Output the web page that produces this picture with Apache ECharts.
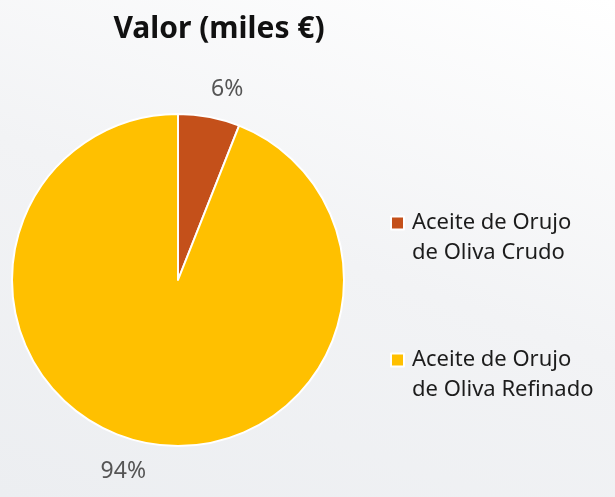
<!DOCTYPE html>
<html>
<head>
<meta charset="utf-8">
<script src="https://cdn.jsdelivr.net/npm/echarts@6/dist/echarts.min.js"></script>
<style>
html,body{margin:0;padding:0;}
#c{width:615px;height:497px;background:linear-gradient(200deg,#ffffff 0%,#f2f3f5 50%,#eceef1 100%);}
</style>
</head>
<body>
<div id="c"></div>
<script>
var categories = ['Aceite de Orujo de Oliva Crudo', 'Aceite de Orujo de Oliva Refinado'];
var values = [6, 94];
var colors = ['#C4501A', '#FFC000'];
var legendLines = {
  'Aceite de Orujo de Oliva Crudo': ['Aceite de Orujo', 'de Oliva Crudo'],
  'Aceite de Orujo de Oliva Refinado': ['Aceite de Orujo', 'de Oliva Refinado']
};
var labelShift = [[-8, -2], [9, 3]];

var chart = echarts.init(document.getElementById('c'), null, {renderer: 'canvas'});
chart.setOption({
  backgroundColor: 'transparent',
  title: {
    text: 'Valor (miles €)',
    left: 214, top: 9, textAlign: 'center',
    textStyle: {fontFamily: 'Noto Sans', fontWeight: 'bold', fontSize: 30, color: '#111'}
  },
  legend: {
    orient: 'vertical',
    left: 390, top: 178,
    padding: 0,
    itemWidth: 13, itemHeight: 13,
    itemGap: 47,
    icon: 'rect',
    itemStyle: {borderColor: '#fff', borderWidth: 2},
    formatter: function (n) {
      var l = legendLines[n];
      return '{t| }\n{t|' + l[0] + '}\n{t|' + l[1] + '}';
    },
    textStyle: {
      fontFamily: 'Noto Sans', fontSize: 22, color: '#1c1c1c', lineHeight: 30,
      rich: {t: {fontFamily: 'Noto Sans', fontSize: 22, color: '#1c1c1c', lineHeight: 30, padding: [0, 0, 0, 3]}}
    }
  },
  series: [{
    type: 'pie',
    center: [178, 280],
    radius: 166,
    startAngle: 90,
    clockwise: true,
    avoidLabelOverlap: false,
    itemStyle: {borderColor: '#fff', borderWidth: 2},
    label: {
      show: true, position: 'outside',
      formatter: '{d}%',
      fontFamily: 'Noto Sans', fontSize: 23, color: '#555'
    },
    labelLine: {show: false, length: 26, length2: 0},
    labelLayout: function (p) {
      var s = labelShift[p.dataIndex];
      return {dx: s[0], dy: s[1]};
    },
    emphasis: {disabled: true},
    data: categories.map(function (c, i) {
      return {name: c, value: values[i], itemStyle: {color: colors[i]}};
    })
  }]
});
</script>
</body>
</html>
